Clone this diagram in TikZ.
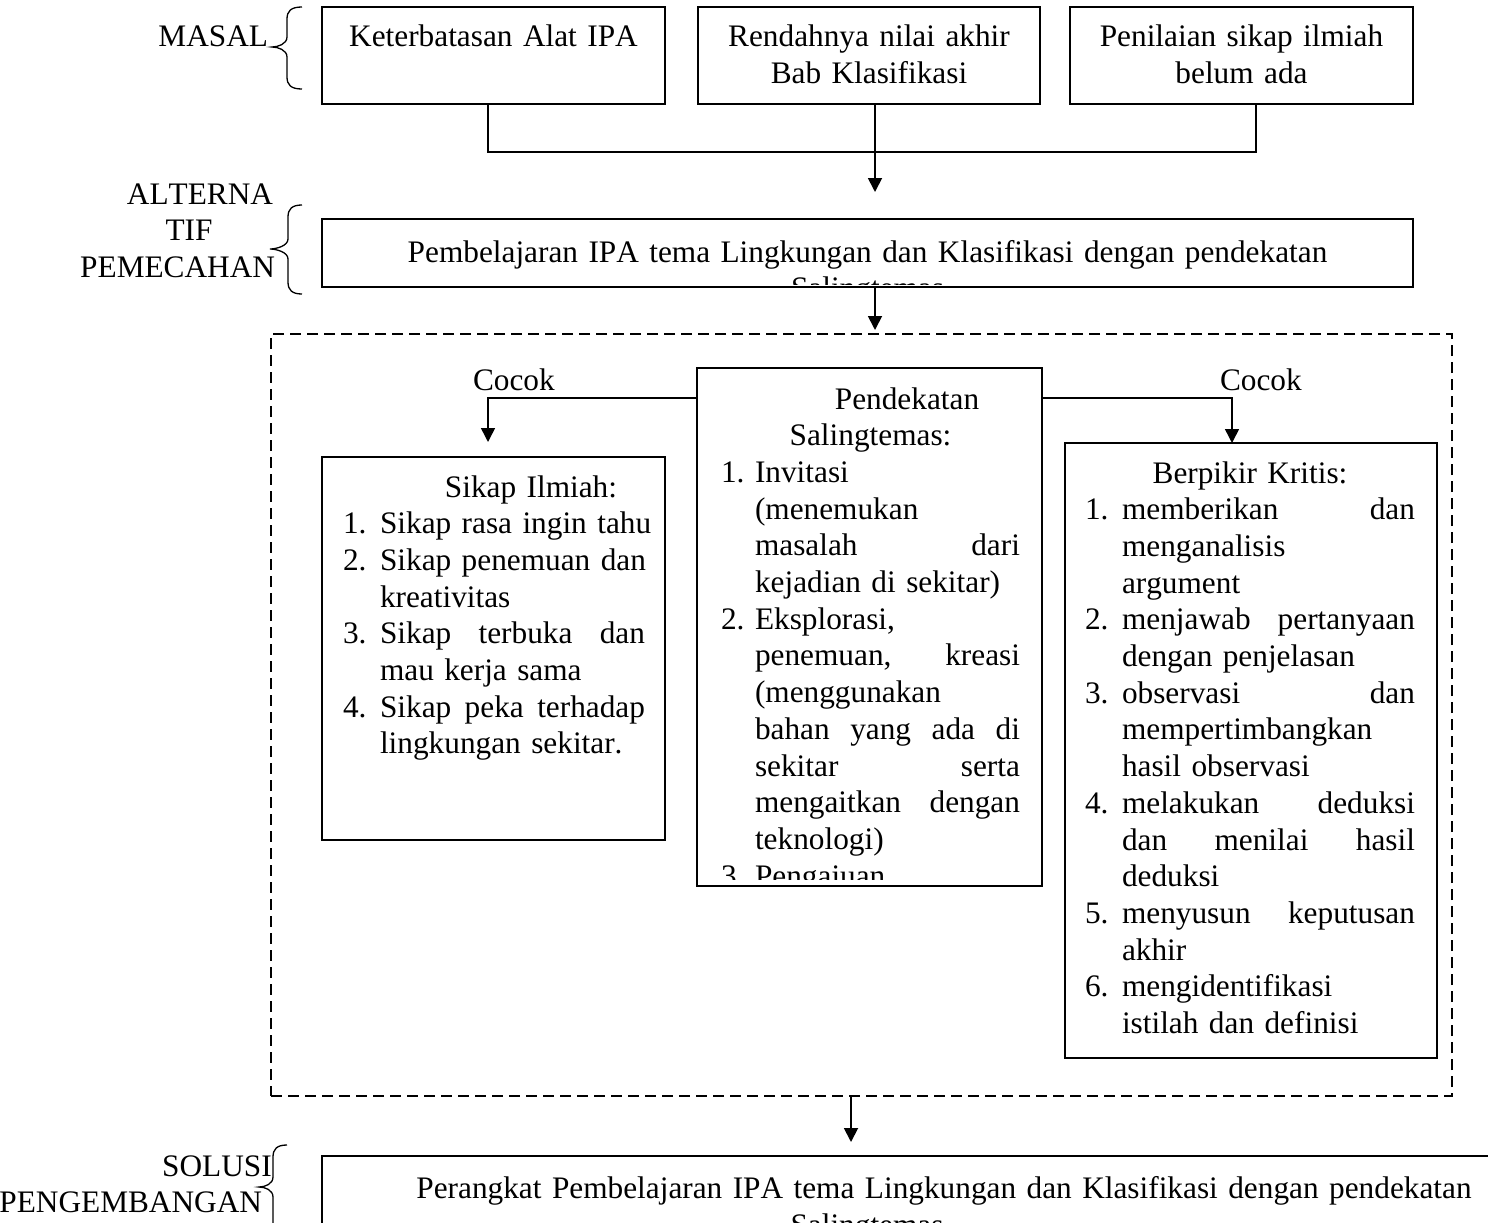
\documentclass[tikz,border=0pt]{standalone}
\usepackage{fontspec}
\setmainfont{Liberation Serif}[Kerning=Off]
\usetikzlibrary{arrows.meta}
\newlength\nw
\newcommand\lnL[2]{\hbox to \linewidth{\hbox to \nw{#1\hfil}#2\hfil}}
\newcommand\lnJ[2]{\hbox to \linewidth{\hbox to \nw{#1\hfil}\spaceskip=0pt plus 1fil\relax #2}}
\newcommand\lnC[2]{\hbox to \linewidth{\hfil\hspace*{#1}#2\hfil}}
\newcommand\crly[6]{%
 \draw[brc] (#1,#4) .. controls ({#2+4},#4) and (#2,{#4+4}) .. (#2,{#4+12}) -- (#2,{#5-10}) .. controls (#2,{#5-3}) and ({#3+6},#5) .. (#3,#5) .. controls ({#3+6},#5) and (#2,{#5+3}) .. (#2,{#5+10}) -- (#2,{#6-12}) .. controls (#2,{#6-4}) and ({#2+4},#6) .. (#1,#6);}
\begin{document}
\begin{tikzpicture}[x=1pt,y=-1pt,
  every node/.style={font={\fontsize{31.3pt}{36.7pt}\selectfont}, inner sep=0pt, outer sep=0pt},
  boxn/.style={draw, line width=1.8pt, rectangle, anchor=north west},
  conn/.style={line width=1.4pt},
  arr/.style={line width=1.8pt, -{Triangle[length=14pt,width=14pt]}},
  brc/.style={line width=1.3pt},
  txt/.style={anchor=base west, text width=#1},
]
\useasboundingbox (0,0) rectangle (1488,1223);
\fill[white] (0,0) rectangle (1488,1223);

% labels on the left
\node[anchor=base east] (l1) at (268,47) {MASAL};
\node[anchor=base east] (l2a) at (273,204) {ALTERNA};
\node[anchor=base] (l2b) at (189,240) {TIF};
\node[anchor=base east] (l2c) at (275,277) {PEMECAHAN};
\node[anchor=base] (l3a) at (217,1176) {SOLUSI};
\node[anchor=base east] (l3b) at (262,1212) {PENGEMBANGAN};
\crly{302}{287}{272}{7}{47}{89}
\crly{302}{288}{270}{205}{249}{294}
\crly{287}{273}{259}{1145}{1187}{1235}

% top boxes
\node[boxn, minimum width=343pt, minimum height=97pt] (b1) at (322,7) {};
\node[boxn, minimum width=342pt, minimum height=97pt] (b2) at (698,7) {};
\node[boxn, minimum width=343pt, minimum height=97pt] (b3) at (1070,7) {};
\node[txt=343pt, align=center] (b1t) at (322,47) {Keterbatasan Alat IPA};
\node[txt=342pt, align=center] (b2t) at (698,47) {Rendahnya nilai akhir\\Bab Klasifikasi};
\node[txt=343pt, align=center] (b3t) at (1070,47) {Penilaian sikap ilmiah\\belum ada};

% alternative box
\begin{scope}
\clip (322,219) rectangle (1413,284);
\node[txt=1091pt, align=center] (b4t) at (322,262) {Pembelajaran IPA tema Lingkungan dan Klasifikasi dengan pendekatan\\Salingtemas};
\end{scope}
\node[boxn, minimum width=1091pt, minimum height=68pt] (b4) at (322,219) {};

% connectors top
\coordinate (j1) at (875,152);
\draw[conn] ([xshift=-5.5pt]b1.south) |- (j1) -| ([xshift=14.5pt]b3.south);
\coordinate (t1) at (875,192);
\draw[arr] (b2.south -| t1) -- (t1);
\coordinate (t2) at (875,330);
\draw[arr] (b4.south -| t2) -- (t2);

% dashed frame
\node[draw, dash pattern=on 11pt off 6pt, line width=1.5pt, minimum width=1181pt, minimum height=762pt, anchor=north west] (dbox) at (271,334) {};

% central box
\begin{scope}
\clip (697,368) rectangle (1042,879);
\node[txt=299pt] (cent) at (721,409) {\setlength\nw{34pt}%
\lnC{73pt}{Pendekatan}
\lnC{0pt}{Salingtemas:}
\lnL{1.}{Invitasi}
\lnL{}{(menemukan}
\lnJ{}{masalah dari}
\lnL{}{kejadian di sekitar)}
\lnL{2.}{Eksplorasi,}
\lnJ{}{penemuan, kreasi}
\lnL{}{(menggunakan}
\lnJ{}{bahan yang ada di}
\lnJ{}{sekitar serta}
\lnJ{}{mengaitkan dengan}
\lnL{}{teknologi)}
\lnL{3.}{Pengajuan}};
\end{scope}
\node[boxn, minimum width=345pt, minimum height=518pt] (cen) at (697,368) {};

% sikap ilmiah
\node[boxn, minimum width=343pt, minimum height=383pt] (sik) at (322,457) {};
\node[txt=302pt] (sikt) at (343,497) {\setlength\nw{37pt}%
\lnC{74pt}{Sikap Ilmiah:}
\lnL{1.}{Sikap rasa ingin tahu}
\lnL{2.}{Sikap penemuan dan}
\lnL{}{kreativitas}
\lnJ{3.}{Sikap terbuka dan}
\lnL{}{mau kerja sama}
\lnJ{4.}{Sikap peka terhadap}
\lnL{}{lingkungan sekitar.}};

% berpikir kritis
\node[boxn, minimum width=372pt, minimum height=615pt] (ber) at (1065,443) {};
\node[txt=330pt] (bert) at (1085,483) {\setlength\nw{37pt}%
\lnC{0pt}{Berpikir Kritis:}
\lnJ{1.}{memberikan dan}
\lnL{}{menganalisis}
\lnL{}{argument}
\lnJ{2.}{menjawab pertanyaan}
\lnL{}{dengan penjelasan}
\lnJ{3.}{observasi dan}
\lnL{}{mempertimbangkan}
\lnL{}{hasil observasi}
\lnJ{4.}{melakukan deduksi}
\lnJ{}{dan menilai hasil}
\lnL{}{deduksi}
\lnJ{5.}{menyusun keputusan}
\lnL{}{akhir}
\lnL{6.}{mengidentifikasi}
\lnL{}{istilah dan definisi}};

% Cocok connectors
\node[anchor=base west] (ck1) at (473,390) {Cocok};
\node[anchor=base west] (ck2) at (1220,390) {Cocok};
\coordinate (t3) at (488,442);
\draw[arr, line width=1.5pt] ([yshift=-30pt]cen.north west) -| (t3);
\coordinate (t4) at (1232,443);
\draw[arr, line width=1.5pt] ([yshift=-30pt]cen.north east) -| (t4);

% bottom
\coordinate (t5) at (851,1142);
\draw[arr] (dbox.south -| t5) -- (t5);
\node[boxn, minimum width=1250pt, minimum height=150pt] (fin) at (322,1156) {};
\node[anchor=base, text width=1100pt, align=center] (fint1) at (944,1198) {Perangkat Pembelajaran IPA tema Lingkungan dan Klasifikasi dengan pendekatan};
\node[anchor=base] (fint2) at (867,1235) {Salingtemas};
\end{tikzpicture}
\end{document}
